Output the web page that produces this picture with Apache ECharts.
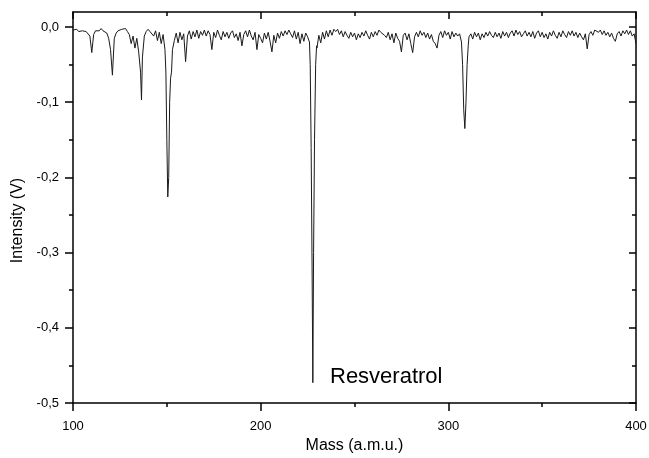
<!DOCTYPE html>
<html>
<head>
<meta charset="utf-8">
<script src="https://cdn.jsdelivr.net/npm/echarts@6/dist/echarts.min.js"></script>
<style>html,body{margin:0;padding:0;background:#fff}#c{width:649px;height:458px}</style>
</head>
<body>
<div id="c"></div>
<script>
// Segment 1: 100 - 159 amu
const mass1 = [100,101,102,103,104,105,106,107,108,109,110,111,112,113,114,115,116,117,118,119,
  120,121,122,123,124,125,126,127,128,129,130,131,132,133,134,135,136,136.5,137,138,139,
  140,141,142,143,144,145,146,147,148,149,149.5,150,150.5,151,151.5,152,152.5,153,154,155,156,157,158,159];
const int1 = [-0.004,-0.005,-0.003,-0.006,-0.004,-0.005,-0.003,-0.006,-0.007,-0.012,-0.034,-0.010,-0.005,-0.003,-0.005,-0.002,-0.005,-0.004,-0.008,-0.015,
  -0.030,-0.064,-0.015,-0.008,-0.005,-0.006,-0.003,-0.005,-0.002,-0.006,-0.010,-0.022,-0.012,-0.028,-0.015,-0.033,-0.060,-0.097,-0.040,-0.012,-0.006,
  -0.003,-0.006,-0.004,-0.012,-0.005,-0.018,-0.007,-0.022,-0.010,-0.030,-0.060,-0.150,-0.226,-0.200,-0.100,-0.068,-0.060,-0.030,-0.018,-0.008,-0.021,-0.007,-0.017,-0.009];
// Segment 2: 160 - 239 amu
const mass2 = [160,161,162,163,164,165,166,167,168,169,170,171,172,173,174,175,176,177,178,179,
  180,181,182,183,184,185,186,187,188,189,190,191,192,193,194,195,196,197,198,199,
  200,201,202,203,204,205,206,207,208,209,210,211,212,213,214,215,216,217,218,219,
  220,221,222,223,224,225,226,226.4,226.9,227.4,227.8,228.2,228.7,229.3,229.8,230,231,232,233,234,235,236,237,238,239];
const int2 = [-0.046,-0.012,-0.005,-0.016,-0.006,-0.013,-0.004,-0.015,-0.006,-0.011,-0.004,-0.012,-0.005,-0.010,-0.030,-0.007,-0.014,-0.004,-0.011,-0.017,
  -0.006,-0.013,-0.007,-0.015,-0.008,-0.005,-0.014,-0.009,-0.018,-0.007,-0.025,-0.010,-0.005,-0.013,-0.004,-0.012,-0.017,-0.007,-0.030,-0.010,
  -0.015,-0.021,-0.008,-0.016,-0.007,-0.019,-0.033,-0.011,-0.021,-0.008,-0.015,-0.006,-0.012,-0.005,-0.010,-0.004,-0.009,-0.014,-0.005,-0.016,
  -0.007,-0.022,-0.009,-0.019,-0.008,-0.013,-0.020,-0.050,-0.160,-0.320,-0.473,-0.300,-0.150,-0.050,-0.025,-0.028,-0.011,-0.021,-0.007,-0.016,-0.005,-0.013,-0.004,-0.011,-0.003];
// Segment 3: 240 - 319 amu
const mass3 = [240,241,242,243,244,245,246,247,248,249,250,251,252,253,254,255,256,257,258,259,
  260,261,262,263,264,265,266,267,268,269,270,271,272,273,274,275,276,277,278,279,
  280,281,282,283,284,285,286,287,288,289,290,291,292,293,294,295,296,297,298,299,
  300,301,302,303,304,305,306,307,307.6,308.2,308.8,309.4,310,310.6,311,312,313,314,315,316,317,318,319];
const int3 = [-0.006,-0.003,-0.010,-0.005,-0.013,-0.006,-0.011,-0.015,-0.007,-0.013,-0.008,-0.017,-0.009,-0.014,-0.007,-0.012,-0.005,-0.011,-0.016,-0.007,
  -0.013,-0.006,-0.011,-0.004,-0.007,-0.005,-0.011,-0.014,-0.007,-0.017,-0.009,-0.021,-0.008,-0.015,-0.019,-0.033,-0.011,-0.008,-0.017,-0.009,
  -0.022,-0.034,-0.013,-0.007,-0.013,-0.005,-0.011,-0.007,-0.014,-0.008,-0.016,-0.010,-0.019,-0.022,-0.028,-0.011,-0.006,-0.014,-0.005,-0.011,
  -0.007,-0.016,-0.006,-0.013,-0.008,-0.012,-0.009,-0.020,-0.050,-0.110,-0.135,-0.100,-0.050,-0.025,-0.013,-0.009,-0.016,-0.007,-0.013,-0.008,-0.017,-0.009,-0.014];
// Segment 4: 320 - 400 amu
const mass4 = [320,321,322,323,324,325,326,327,328,329,330,331,332,333,334,335,336,337,338,339,
  340,341,342,343,344,345,346,347,348,349,350,351,352,353,354,355,356,357,358,359,
  360,361,362,363,364,365,366,367,368,369,370,371,372,373,374,375,376,377,378,379,
  380,381,382,383,384,385,386,387,388,389,390,391,392,393,394,395,396,397,398,399,400];
const int4 = [-0.007,-0.012,-0.006,-0.011,-0.014,-0.007,-0.013,-0.008,-0.015,-0.006,-0.012,-0.007,-0.014,-0.008,-0.005,-0.012,-0.004,-0.010,-0.006,-0.013,
  -0.009,-0.005,-0.012,-0.007,-0.013,-0.006,-0.015,-0.008,-0.005,-0.013,-0.007,-0.014,-0.009,-0.016,-0.007,-0.012,-0.005,-0.011,-0.015,-0.007,
  -0.013,-0.005,-0.010,-0.014,-0.006,-0.011,-0.005,-0.012,-0.007,-0.014,-0.008,-0.013,-0.017,-0.009,-0.029,-0.010,-0.006,-0.011,-0.004,-0.003,
  -0.007,-0.004,-0.010,-0.005,-0.011,-0.007,-0.013,-0.008,-0.015,-0.019,-0.009,-0.006,-0.012,-0.005,-0.009,-0.004,-0.010,-0.005,-0.012,-0.009,-0.022];

const yMajorTicks = [-0.5,-0.4,-0.3,-0.2,-0.1,0];
const yMinorTicks = [-0.45,-0.35,-0.25,-0.15,-0.05];
const annotation = 'Resveratrol';

const masses = [].concat(mass1, mass2, mass3, mass4);
const intensities = [].concat(int1, int2, int3, int4);
const seriesData = masses.map((m, i) => [m, intensities[i]]);

const FONT = '"Liberation Sans", Arial, sans-serif';
const lineStyle = {color:'#000', width:1.5};
const fmt = v => (Math.abs(v) < 1e-9 ? '0,0' : v.toFixed(1).replace('.', ','));
const G = {left:73, right:13, top:12, bottom:55, containLabel:false, outerBoundsMode:'none'};

const chart = echarts.init(document.getElementById('c'), null, {renderer:'canvas'});
chart.setOption({
  animation:false,
  backgroundColor:'#fff',
  grid:[Object.assign({}, G), Object.assign({}, G)],
  xAxis:[
    {type:'value', gridIndex:0, min:100, max:400, interval:100, position:'bottom',
     axisLine:{show:true, onZero:false, lineStyle},
     axisTick:{show:true, inside:false, length:8, lineStyle},
     minorTick:{show:true, splitNumber:2, length:4, lineStyle},
     splitLine:{show:false}, minorSplitLine:{show:false},
     axisLabel:{show:true, margin:17, color:'#000', fontSize:13, fontFamily:FONT},
     name:'Mass (a.m.u.)', nameLocation:'middle', nameGap:33,
     nameTextStyle:{color:'#000', fontSize:16, fontFamily:FONT}},
    {type:'value', gridIndex:0, min:100, max:400, interval:100, position:'top',
     axisLine:{show:true, onZero:false, lineStyle}, axisLabel:{show:false}, splitLine:{show:false},
     axisTick:{show:true, inside:true, length:7, lineStyle},
     minorTick:{show:true, splitNumber:2, length:4, lineStyle}},
    {type:'value', gridIndex:1, min:100, max:400, show:false}
  ],
  yAxis:[
    {type:'value', gridIndex:0, min:-0.5, max:0.02, position:'left',
     axisLine:{show:true, onZero:false, lineStyle},
     axisTick:{show:true, inside:false, length:8, lineStyle, customValues:yMajorTicks},
     splitLine:{show:false},
     axisLabel:{show:true, margin:14, color:'#000', fontSize:13, fontFamily:FONT, formatter:fmt, customValues:yMajorTicks},
     name:'Intensity (V)', nameLocation:'middle', nameGap:46, nameRotate:90,
     nameTextStyle:{color:'#000', fontSize:16, fontFamily:FONT, padding:[0,26,0,0]}},
    {type:'value', gridIndex:0, min:-0.5, max:0.02, position:'right',
     axisLine:{show:true, onZero:false, lineStyle}, axisLabel:{show:false}, splitLine:{show:false},
     axisTick:{show:true, inside:true, length:7, lineStyle, customValues:yMajorTicks}},
    {type:'value', gridIndex:1, min:-0.5, max:0.02, position:'left',
     axisLine:{show:false}, axisLabel:{show:false}, splitLine:{show:false},
     axisTick:{show:true, inside:false, length:4, lineStyle, customValues:yMinorTicks}},
    {type:'value', gridIndex:1, min:-0.5, max:0.02, position:'right',
     axisLine:{show:false}, axisLabel:{show:false}, splitLine:{show:false},
     axisTick:{show:true, inside:true, length:4, lineStyle, customValues:yMinorTicks}}
  ],
  graphic:[
    {type:'text', left:330, top:366, style:{text:annotation, fill:'#000', fontSize:22, fontFamily:FONT}}
  ],
  series:[
    {type:'line', xAxisIndex:0, yAxisIndex:0, data:seriesData, showSymbol:false, symbol:'none',
     lineStyle:{color:'#1a1a1a', width:1}, sampling:null, silent:true}
  ]
});
</script>
</body>
</html>
